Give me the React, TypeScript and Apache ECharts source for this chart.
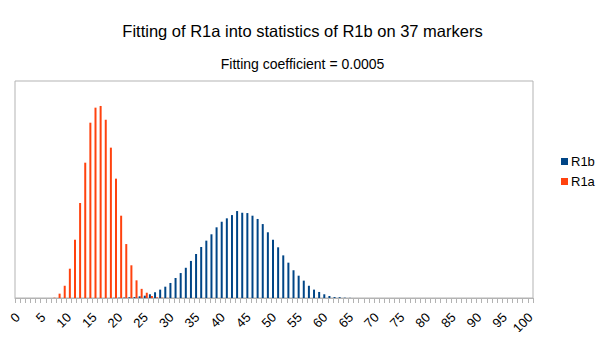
import React, { useEffect, useRef } from "react";
import * as echarts from "echarts";

const categories: string[] = Array.from({ length: 101 }, (_, i) => String(i));

// R1b values (%), starting at category 19
const r1bStart = 19;
const r1bValues = [
  0.01, 0.02, 0.03, 0.05, 0.06, 0.11, 0.15, 0.24, 0.37, 0.54,
  0.73, 0.97, 1.29, 1.61, 1.95, 2.39, 2.84, 3.29, 3.7, 4.11,
  4.56, 4.92, 5.14, 5.35, 5.61, 5.5, 5.48, 5.31, 5.1, 4.77,
  4.24, 3.76, 3.27, 2.75, 2.28, 1.79, 1.44, 1.12, 0.79, 0.54,
  0.39, 0.24, 0.13, 0.06, 0.05, 0.02, 0.01,
];

// R1a values (%), starting at category 7
const r1aStart = 7;
const r1aValues = [
  0.02, 0.28, 0.79, 1.89, 3.76, 6.13, 8.73, 11.31, 12.28, 12.39,
  11.5, 9.7, 7.7, 5.31, 3.48, 2.11, 1.14, 0.59, 0.34, 0.13,
  0.04, 0.02, 0.01,
];

function place(start: number, vals: number[]): number[] {
  const out: number[] = categories.map(() => 0);
  vals.forEach((v, i) => {
    out[start + i] = v;
  });
  return out;
}

const FONT = "Liberation Sans, Arial, sans-serif";

export default function App() {
  const ref = useRef<HTMLDivElement>(null);
  useEffect(() => {
    if (!ref.current) return;
    const chart = echarts.init(ref.current, undefined, { renderer: "svg" });
    chart.setOption({
      animation: false,
      title: [
        {
          text: "Fitting of R1a into statistics of R1b on 37 markers",
          left: "center",
          top: 17,
          textStyle: { fontSize: 16.5, fontWeight: "normal", color: "#000", fontFamily: FONT },
        },
        {
          text: "Fitting coefficient = 0.0005",
          left: "center",
          top: 52,
          textStyle: { fontSize: 14, fontWeight: "normal", color: "#000", fontFamily: FONT },
        },
      ],
      legend: {
        orient: "vertical",
        left: 556,
        top: 150,
        itemWidth: 7,
        itemHeight: 7,
        itemGap: 7,
        icon: "rect",
        textStyle: { fontSize: 13, color: "#000", fontFamily: FONT, padding: [0, 0, 0, -2] },
        data: ["R1b", "R1a"],
      },
      grid: {
        left: 15,
        right: 72,
        top: 81,
        bottom: 42,
        show: true,
        borderColor: "#b3b3b3",
        borderWidth: 1,
        containLabel: false,
      },
      xAxis: {
        type: "category",
        data: categories,
        boundaryGap: true,
        axisLine: { lineStyle: { color: "#b3b3b3", width: 1 } },
        axisTick: { show: true, interval: 0, length: 5, alignWithLabel: false, lineStyle: { color: "#b3b3b3" } },
        axisLabel: {
          interval: 4,
          rotate: 45,
          fontSize: 13,
          color: "#000",
          margin: 17,
          fontFamily: FONT,
        },
        splitLine: { show: false },
      },
      yAxis: {
        type: "value",
        min: 0,
        max: 14,
        show: false,
        splitLine: { show: false },
      },
      series: [
        {
          name: "R1b",
          type: "bar",
          data: place(r1bStart, r1bValues),
          barWidth: 2,
          barGap: "0%",
          itemStyle: { color: "#004586" },
        },
        {
          name: "R1a",
          type: "bar",
          data: place(r1aStart, r1aValues),
          barWidth: 2,
          barGap: "0%",
          itemStyle: { color: "#ff420e" },
        },
      ],
    });
    return () => chart.dispose();
  }, []);
  return <div ref={ref} style={{ width: 605, height: 340, margin: -8 }} />;
}
